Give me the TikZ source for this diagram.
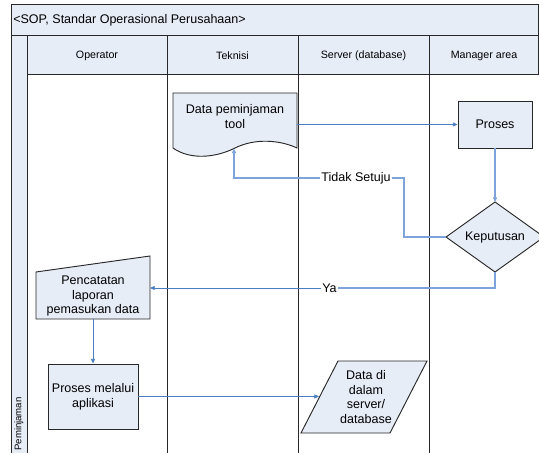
\documentclass[tikz,border=0pt]{standalone}
\usepackage{fontspec}
\setmainfont{Liberation Sans}
\usetikzlibrary{arrows.meta,calc}
\definecolor{lanefill}{RGB}{231,237,247}
\definecolor{connblue}{RGB}{74,126,196}
\definecolor{connlight}{RGB}{125,163,218}
\definecolor{frameline}{RGB}{40,40,40}
\tikzset{
  frame/.style={draw=frameline,line width=0.75pt},
  shapebox/.style={draw=frameline,line width=0.7pt,fill=lanefill},
  txt/.style={font=\fontsize{9.4}{11.2}\selectfont,align=center,inner sep=0pt},
  hdr/.style={font=\fontsize{8}{10}\selectfont,inner sep=0pt},
  conn/.style={draw=connblue,line width=0.6pt,-{Triangle[length=3.5pt,width=3pt]}},
  connl/.style={draw=connlight,line width=1pt,-{Triangle[length=3.5pt,width=3pt]}},
  lbl/.style={font=\fontsize{9.4}{11.2}\selectfont,fill=white,inner sep=0.5pt}
}
\begin{document}
\begin{tikzpicture}[x=0.75pt,y=-0.75pt]
\clip (0,0) rectangle (539,453);
\fill[white] (0,0) rectangle (539,453);
% pool and lanes
\fill[lanefill] (11,5) rectangle (545,36);
\fill[lanefill] (27,36) rectangle (545,75);
\fill[lanefill] (11,36) rectangle (27,470);
\draw[frame] (11,470) -- (11,5) -- (545,5);
\draw[frame] (538,5) -- (538,75);
\draw[frame] (11,36) -- (545,36);
\draw[frame] (27,75) -- (545,75);
\draw[frame] (27,36) -- (27,470);
\draw[frame] (167,36) -- (167,470);
\draw[frame] (298,36) -- (298,470);
\draw[frame] (429,36) -- (429,470);
\node[hdr,font=\fontsize{9.4}{11}\selectfont,anchor=west] (title) at (13,20.5) {<SOP, Standar Operasional Perusahaan>};
\node[hdr] (hop) at (97,56) {Operator};
\node[hdr] (htk) at (232.5,56) {Teknisi};
\node[hdr] (hsv) at (363.5,56) {Server (database)};
\node[hdr] (hma) at (484,56) {Manager area};
\node[hdr,font=\fontsize{7.2}{8}\selectfont,rotate=90] (lane) at (19,424) {Peminjaman};
% document
\draw[shapebox] (173,93) -- (297,93) -- (297,148)
  .. controls (280,140) and (255,138) .. (235,148)
  .. controls (215,158) and (190,160) .. (173,148) -- cycle;
\node[txt] (doc) at (235,116.5) {Data peminjaman\\tool};
\coordinate (docR) at (297,124.5);
\coordinate (docB) at (234,148.5);
% Proses
\node[shapebox,txt,minimum width=55.5pt,minimum height=35.25pt] (proc) at (495,124.5) {Proses};
% decision
\draw[shapebox] (495,202) -- (544,237) -- (495,272) -- (446,237) -- cycle;
\node[txt] (dec) at (495,237) {Keputusan};
\coordinate (decN) at (495,202);
\coordinate (decW) at (446,237);
\coordinate (decS) at (495,272);
% manual input
\draw[shapebox] (36,272) -- (150,256) -- (150,319) -- (36,319) -- cycle;
\node[txt] (pen) at (93,296) {Pencatatan\\laporan\\pemasukan data};
\coordinate (penE) at (150,288);
\coordinate (penS) at (93,319);
% Proses melalui aplikasi
\node[shapebox,txt,minimum width=67.5pt,minimum height=48.75pt] (app) at (93,396.5) {Proses melalui\\aplikasi};
% data parallelogram
\draw[shapebox] (338,361) -- (427,361) -- (390,433) -- (301,433) -- cycle;
\node[txt] (dat) at (366,397) {Data di\\dalam\\server/\\database};
\coordinate (datW) at (319,396.5);
% connectors
\draw[conn] (docR) -- (proc.west);
\draw[connl] (proc.south) -- (decN);
\node[lbl] (tidak) at (356,178) {Tidak Setuju};
\draw[connl,-] (decW) -- (404,237) -- (404,178) -- (tidak.east);
\draw[connl] (tidak.west) -- (234,178) -- (docB);
\node[lbl] (ya) at (329.5,288) {Ya};
\draw[connl,-] (decS) -- (495,288) -- (ya.east);
\draw[conn] (ya.west) -- (penE);
\draw[conn] (penS) -- (app.north);
\draw[conn] (app.east) -- (datW);
\end{tikzpicture}
\end{document}
